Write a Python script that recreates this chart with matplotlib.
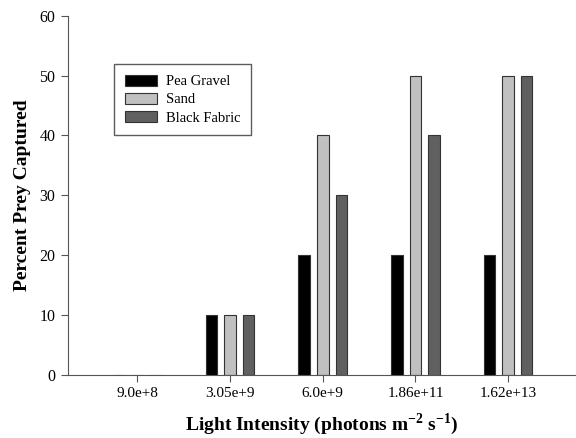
import numpy as np
import matplotlib
matplotlib.use("Agg")
from matplotlib import pyplot as plt

plt.rcParams['font.family'] = ['Liberation Serif', 'DejaVu Serif']
plt.rcParams['mathtext.fontset'] = 'custom'
plt.rcParams['mathtext.rm'] = 'Liberation Serif'
plt.rcParams['mathtext.bf'] = 'Liberation Serif:bold'

# data
intensity = ["9.0e+8", "3.05e+9", "6.0e+9", "1.86e+11", "1.62e+13"]
pea_gravel = [0, 10, 20, 20, 20]
sand = [0, 10, 40, 50, 50]
black_fabric = [0, 10, 30, 40, 50]

series = ["Pea Gravel", "Sand", "Black Fabric"]
colors = ["#000000", "#c0c0c0", "#606060"]

fig = plt.figure(figsize=(5.76, 4.38), dpi=100)
ax = fig.add_axes([0.118, 0.144, 0.880, 0.82])

x = np.arange(len(intensity))
w = 0.125
offsets = [-0.2, 0.0, 0.2]
for vals, name, col, off in zip([pea_gravel, sand, black_fabric], series, colors, offsets):
    ax.bar(x + off, vals, width=w, color=col, edgecolor="#333333", linewidth=0.8, label=name)

ax.set_xlim(-0.75, 4.72)
ax.set_ylim(0, 60)
ax.set_xticks(x)
ax.set_xticklabels(intensity, fontsize=11)
ax.set_yticks(range(0, 61, 10))
ax.tick_params(axis='y', labelsize=11.5, direction='out', length=5, color='#555555', pad=4)
ax.tick_params(axis='x', direction='out', length=5, color='#555555', pad=4)
for s in ['top', 'right']:
    ax.spines[s].set_visible(False)
for s in ['left', 'bottom']:
    ax.spines[s].set_color('#555555')

ax.set_ylabel("Percent Prey Captured", fontsize=14, fontweight='bold', labelpad=6)
ax.set_xlabel(r"Light Intensity (photons m$^{\mathbf{-2}}$ s$^{\mathbf{-1}}$)", fontsize=14,
              fontweight='bold', labelpad=8)

leg = ax.legend(loc='upper left', bbox_to_anchor=(0.091, 0.866), fontsize=10.5, frameon=True,
                fancybox=False, edgecolor='#333333', handlelength=2.2, handleheight=0.8,
                borderpad=0.75, labelspacing=0.3, handletextpad=0.6, borderaxespad=0)
leg.get_frame().set_linewidth(1.0)

fig.savefig("out.png", dpi=100)
